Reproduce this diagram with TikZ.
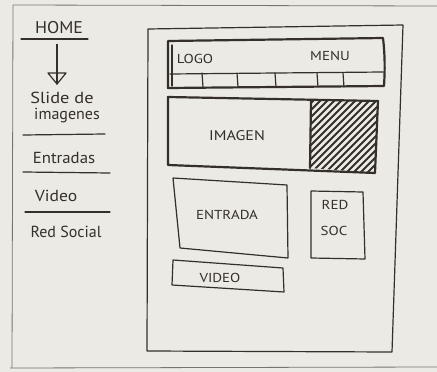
\documentclass[tikz,border=0pt]{standalone}
\usepackage{fontspec}
\setmainfont{PT Sans}
\usetikzlibrary{arrows.meta,calc}
\definecolor{paper}{HTML}{ECEAE5}
\definecolor{pen}{HTML}{352F2B}
\definecolor{faint}{HTML}{7A746E}
\tikzset{
  ink/.style={draw=pen, line width=1.2pt, line join=round, line cap=round},
  heavy/.style={draw=pen, line width=2.2pt, line join=round, line cap=round},
  edge/.style={draw=faint, line width=0.8pt},
  navtext/.style={text=pen, font=\fontsize{16}{16}\selectfont, inner sep=0pt},
  boxtext/.style={text=pen, font=\fontsize{13}{13}\selectfont, inner sep=0pt, xscale=1.15},
}
\begin{document}
\begin{tikzpicture}[x=1pt, y=-1pt]
  % sheet
  \fill[paper] (0,0) rectangle (437,372);
  \useasboundingbox (0,0) rectangle (437,372);

  % edges of the sheet
  \draw[edge] (13,5) -- (437,6);
  \draw[edge] (13,5) -- (12,368);
  \draw[edge] (10,368) -- (437,367);

  % ---------- navigation column ----------
  \node[navtext, font=\fontsize{17}{17}\selectfont, xscale=1.05] (home) at (59,28) {HOME};
  \draw[ink] (21,39) -- (88,39);

  \node[navtext, xscale=1.15] (slide) at (62,98) {Slide de};
  \node[navtext] (imgs) at (67,116) {imagenes};
  \draw[ink] (23,135) -- (105,134);

  \node[navtext, xscale=1.05] (entr) at (64,158) {Entradas};
  \draw[ink] (23,172) -- (110,173);

  \node[navtext, xscale=1.1] (vid) at (56,196) {Video};
  \draw[ink] (25,212) -- (110,212);

  \node[navtext] (red) at (66,232) {Red Social};

  % arrow from HOME down to the slide entry
  \coordinate (arrtop) at ($(home.south)+(-2,10)$);
  \coordinate (arrtip) at ($(slide.north)+(-5,-8)$);
  \draw[ink] (arrtop) -- (arrtip);
  \draw[ink] ($(arrtip)+(-9,-11)$) -- ($(arrtip)+(9,-11)$) -- (arrtip) -- cycle;

  % ---------- page wireframe ----------
  \draw[ink] (148,29) -- (403,25) -- (392,352) -- (147,351) -- cycle;

  % header bar
  \draw[heavy] (168,41) -- (383,38) .. controls (385,55) and (385,70) .. (384,86) -- (168,88) -- cycle;
  \draw[ink] (172,45) -- (172,86);
  \draw[ink] (170,74) -- (383,72);
  \foreach \xx in {202,237,275,317,343}
    \draw[ink] (\xx,73) -- (\xx+1,87);
  \node[boxtext] (logo) at (195,59) {LOGO};
  \node[boxtext] (menu) at (330,56) {MENU};

  % image slider with hatched side panel
  \begin{scope}
    \clip (311,100) -- (378,101) -- (375,173) -- (310,168) -- cycle;
    \foreach \k in {0,7,...,160}
      \draw[pen, line width=1.8pt] (220+\k,180) -- (300+\k,100);
  \end{scope}
  \draw[heavy] (168,97) -- (378,101) -- (375,173) -- (168,165) -- cycle;
  \draw[heavy] (311,100) -- (310,168);
  \node[boxtext, font=\fontsize{14}{14}\selectfont] (imagen) at (237,136) {IMAGEN};

  % entry block
  \draw[ink] (173,178) -- (287,185) -- (288,258) -- (180,248) -- cycle;
  \node[boxtext] (entrada) at (227,215) {ENTRADA};

  % social block
  \draw[ink] (311,191) -- (363,192) -- (365,259) -- (311,258) -- cycle;
  \node[boxtext] (redt) at (335,205) {RED};
  \node[boxtext] (soc) at (334,231) {SOC};

  % video block
  \draw[ink] (173,260) -- (283,268) -- (284,292) -- (172,285) -- cycle;
  \node[boxtext] (video) at (220,278) {VIDEO};
\end{tikzpicture}
\end{document}
